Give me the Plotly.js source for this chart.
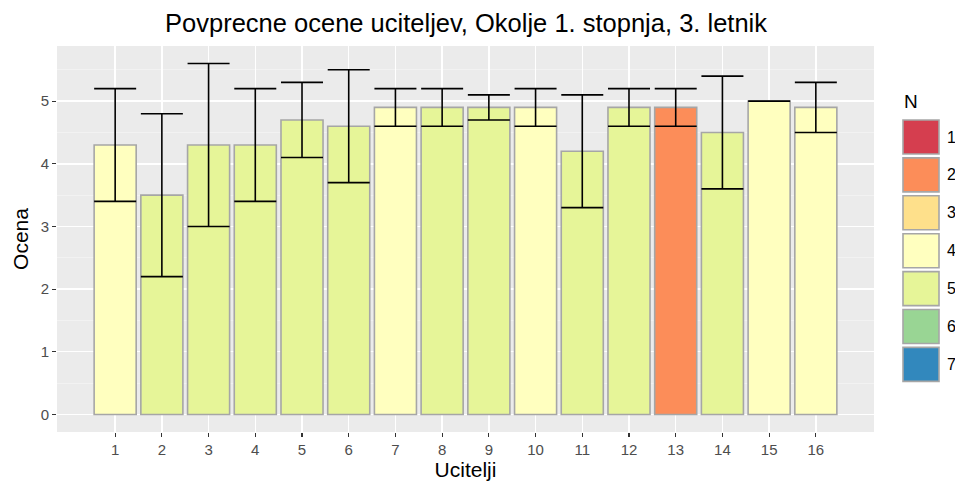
<!DOCTYPE html>
<html>
<head>
<meta charset="utf-8">
<script src="https://cdn.plot.ly/plotly-3.0.1.min.js"></script>
<style>html,body{margin:0;padding:0;background:#fff;}#chart{width:955px;height:486px;}</style>
</head>
<body>
<div id="chart"></div>
<script>
const teachers = [1,2,3,4,5,6,7,8,9,10,11,12,13,14,15,16];
const means = [4.3,3.5,4.3,4.3,4.7,4.6,4.9,4.9,4.9,4.9,4.2,4.9,4.9,4.5,5.0,4.9];
const sds   = [0.9,1.3,1.3,0.9,0.6,0.9,0.3,0.3,0.2,0.3,0.9,0.3,0.3,0.9,0.0,0.4];
const nCounts = [4,5,5,5,5,5,4,5,5,4,5,5,2,5,4,4];
const nLevels = [1,2,3,4,5,6,7];
const palette = ['#D53E4F','#FC8D59','#FEE08B','#FFFFBF','#E6F598','#99D594','#3288BD'];

const barColors = nCounts.map(n => palette[nLevels.indexOf(n)]);

const trace = {
  type: 'bar',
  x: teachers,
  y: means,
  width: 0.9,
  marker: {color: barColors, line: {color: '#A6A6A6', width: 1.6}},
  error_y: {type: 'data', array: sds, visible: true, color: '#000000', thickness: 1.6, width: 21},
  hoverinfo: 'x+y',
  showlegend: false
};

// legend drawn in paper coordinates
const shapes = [];
const annotations = [];
const keyX0 = 1.0 + (903-874)/817, keyX1 = 1.0 + (939-874)/817;
const plotTop = 46, plotH = 386;
nLevels.forEach((lv, i) => {
  const top = 120 + i*37.9, bot = top + 34;
  shapes.push({type:'rect', xref:'paper', yref:'paper', x0:keyX0, x1:keyX1,
    y0: 1 - (bot-plotTop)/plotH, y1: 1 - (top-plotTop)/plotH,
    fillcolor: palette[i], line:{color:'#A6A6A6', width:1.6}});
  annotations.push({xref:'paper', yref:'paper', x: 1 + (945-874)/817, y: 1 - (top+17-plotTop)/plotH,
    text: String(lv), showarrow:false, xanchor:'left', yanchor:'middle',
    font:{family:'Liberation Sans, Arial, sans-serif', size:16, color:'#000'}});
});
annotations.push({xref:'paper', yref:'paper', x: 1 + (902-874)/817, y: 1 - (102-plotTop)/plotH,
  text:'N', showarrow:false, xanchor:'left', yanchor:'middle',
  font:{family:'Liberation Sans, Arial, sans-serif', size:19, color:'#000'}});

const layout = {
  width: 955, height: 486,
  margin: {l:57, r:81, t:46, b:54},
  paper_bgcolor: '#ffffff',
  plot_bgcolor: '#EBEBEB',
  font: {family: 'Liberation Sans, Arial, sans-serif'},
  title: {text: 'Povprecne ocene uciteljev, Okolje 1. stopnja, 3. letnik', x: 0.488, xanchor: 'center', y: 0.953, yanchor: 'middle',
    font: {size: 25.5, color: '#000'}},
  xaxis: {
    range: [-0.245, 17.245],
    tickvals: teachers, ticktext: teachers.map(String),
    showgrid: true, gridcolor: '#FFFFFF', gridwidth: 1.4,
    zeroline: false, ticks: 'outside', ticklen: 4, tickcolor: '#333333', tickwidth: 1.2,
    tickfont: {size: 15, color: '#4D4D4D'},
    title: {text: 'Ucitelji', font: {size: 21, color: '#000'}, standoff: 3},
    fixedrange: true
  },
  yaxis: {
    range: [-0.28, 5.88],
    tickvals: [0,1,2,3,4,5],
    showgrid: true, gridcolor: '#FFFFFF', gridwidth: 1.4,
    minor: {tickvals: [0.5,1.5,2.5,3.5,4.5,5.5], showgrid: true, gridcolor: '#F5F5F5', gridwidth: 0.7, ticks: ''},
    zeroline: false, ticks: 'outside', ticklen: 4, tickcolor: '#333333', tickwidth: 1.2,
    tickfont: {size: 15, color: '#4D4D4D'},
    title: {text: 'Ocena', font: {size: 21, color: '#000'}, standoff: 6},
    fixedrange: true
  },
  shapes: shapes,
  annotations: annotations,
  bargap: 0
};

Plotly.newPlot('chart', [trace], layout, {displayModeBar: false, staticPlot: true});
</script>
</body>
</html>
